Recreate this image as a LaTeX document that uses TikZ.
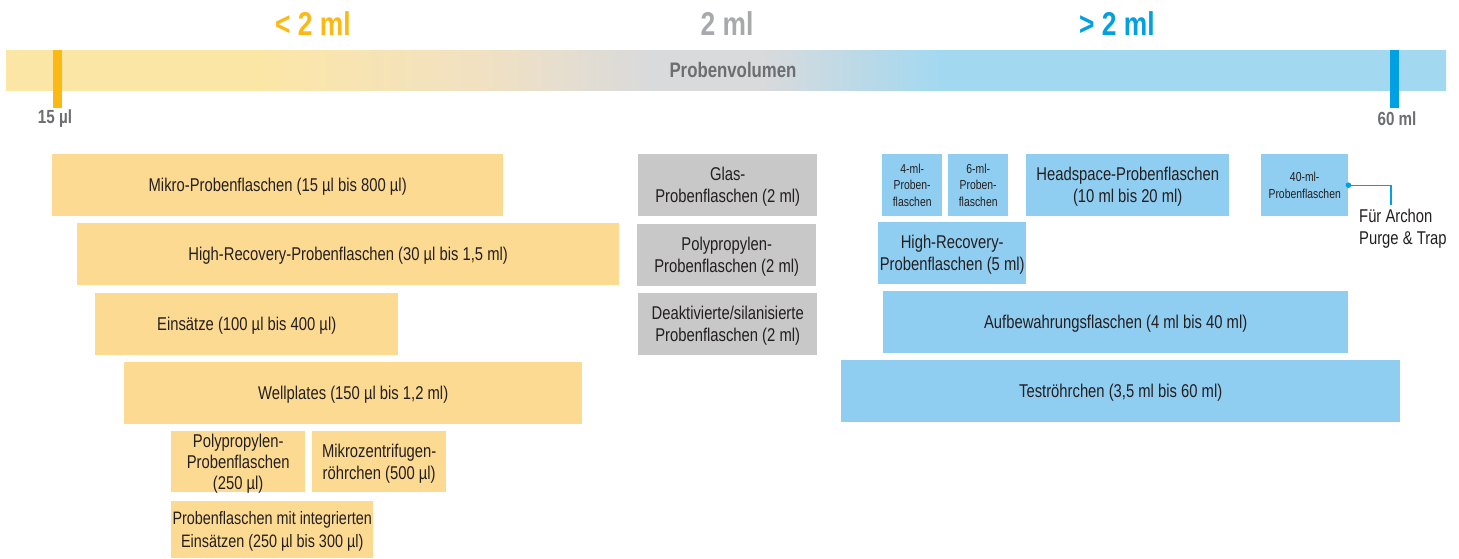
\documentclass[tikz,border=0pt]{standalone}
\usepackage{fontspec}
\setmainfont{Liberation Sans}[FakeStretch=0.8]
\usetikzlibrary{calc}
\definecolor{gelbbox}{HTML}{FDDA92}
\definecolor{graubox}{HTML}{C8C8C9}
\definecolor{blaubox}{HTML}{90CEF1}
\definecolor{markgelb}{HTML}{FDB913}
\definecolor{markblau}{HTML}{00A0E3}
\definecolor{schrift}{HTML}{231F20}
\definecolor{labelgrau}{HTML}{6D6E71}
\definecolor{kopfgrau}{HTML}{A7A9AC}
\definecolor{balkengelb}{HTML}{FCE6A6}
\definecolor{balkenbeige}{HTML}{F1E1C2}
\definecolor{balkengrau}{HTML}{D9DADC}
\definecolor{balkenblau}{HTML}{A3D9F0}
% Verlauf des Balkens (25bp = links, 75bp = rechts)
\pgfdeclarehorizontalshading{volumen}{100bp}{%
	color(0bp)=(balkengelb); color(33.8bp)=(balkengelb);
	color(41.5bp)=(balkenbeige); color(47.4bp)=(balkengrau);
	color(51.2bp)=(balkengrau); color(57.4bp)=(balkenblau);
	color(100bp)=(balkenblau)}
\tikzset{
	box/.style={anchor=north west, inner sep=0pt, minimum height=62pt, align=center,
		text depth=0pt, text=schrift, font=\fontsize{18.5}{22}\selectfont},
	gbox/.style={box, fill=gelbbox},
	grbox/.style={box, fill=graubox},
	bbox/.style={box, fill=blaubox},
	klein/.style={font=\fontsize{13}{16.5}\selectfont},
	kopf/.style={font=\bfseries\fontsize{33}{33}\selectfont},
	skala/.style={text=labelgrau, font=\bfseries\fontsize{19}{19}\selectfont},
}
\begin{document}
\begin{tikzpicture}[x=1pt,y=-1pt]
\useasboundingbox (0,0) rectangle (1459,558);
% Balken Probenvolumen
\shade[shading=volumen] (6,50) rectangle (1446,90);
\fill[markgelb] (53,50) rectangle (62,108);
\fill[markblau] (1390,50) rectangle (1399,108);
\node[text=labelgrau, font=\bfseries\fontsize{21}{21}\selectfont] (volumen) at (733,70) {Probenvolumen};
\node[skala] (min) at (55,119) {15 µl};
\node[skala] (max) at (1397,119) {60 ml};
\node[kopf, text=markgelb] (kleiner) at (313,24) {< 2 ml};
\node[kopf, text=kopfgrau] (gleich) at (727,24) {2 ml};
\node[kopf, text=markblau] (groesser) at (1117,24) {> 2 ml};

% < 2 ml
\node[gbox, minimum width=451pt] (mikro) at (52,154) {Mikro-Probenflaschen (15 µl bis 800 µl)};
\node[gbox, minimum width=542pt] (hrgelb) at (77,223) {High-Recovery-Probenflaschen (30 µl bis 1,5 ml)};
\node[gbox, minimum width=303pt] (einsaetze) at (95,293) {Einsätze (100 µl bis 400 µl)};
\node[gbox, minimum width=458pt] (wellplates) at (124,362) {Wellplates (150 µl bis 1,2 ml)};
\node[gbox, minimum width=134pt, minimum height=61pt, font=\fontsize{18.5}{21}\selectfont] (ppgelb) at (171,431) {Polypropylen-\\Probenflaschen\\(250 µl)};
\node[gbox, minimum width=134pt, minimum height=61pt] (mikrozentr) at (312,431) {Mikrozentrifugen-\\röhrchen (500 µl)};
\node[gbox, minimum width=202pt, minimum height=57pt, font=\fontsize{18}{22.5}\selectfont] (integriert) at (171,501) {Probenflaschen mit integrierten\\Einsätzen (250 µl bis 300 µl)};

% 2 ml
\node[grbox, minimum width=179pt] (glas) at (638,154) {Glas-\\Probenflaschen (2 ml)};
\node[grbox, minimum width=179pt] (ppgrau) at (637,224) {Polypropylen-\\Probenflaschen (2 ml)};
\node[grbox, minimum width=179pt] (deakt) at (638,293) {Deaktivierte/silanisierte\\Probenflaschen (2 ml)};

% > 2 ml
\node[bbox, klein, minimum width=60pt] (p4) at (882,154) {4-ml-\\Proben-\\flaschen};
\node[bbox, klein, minimum width=60pt] (p6) at (948,154) {6-ml-\\Proben-\\flaschen};
\node[bbox, minimum width=203pt] (headspace) at (1026,154) {Headspace-Probenflaschen\\(10 ml bis 20 ml)};
\node[bbox, klein, minimum width=87pt] (p40) at (1261,154) {40-ml-\\Probenflaschen};
\node[bbox, minimum width=148pt] (hrblau) at (878,222) {High-Recovery-\\Probenflaschen (5 ml)};
\node[bbox, minimum width=465pt] (aufbew) at (883,291) {Aufbewahrungsflaschen (4 ml bis 40 ml)};
\node[bbox, minimum width=559pt] (testr) at (841,360) {Teströhrchen (3,5 ml bis 60 ml)};

% Hinweis
\coordinate (knick) at (1391,205);
\node[anchor=north west, inner sep=0pt, align=left, text=schrift, font=\fontsize{18.5}{22}\selectfont] (archon) at (1359,209) {Für Archon\\Purge \& Trap};
\draw[markblau, line width=1.3pt] (p40.east) -| (knick);
\fill[markblau] (p40.east) circle (2.8);
\end{tikzpicture}
\end{document}
